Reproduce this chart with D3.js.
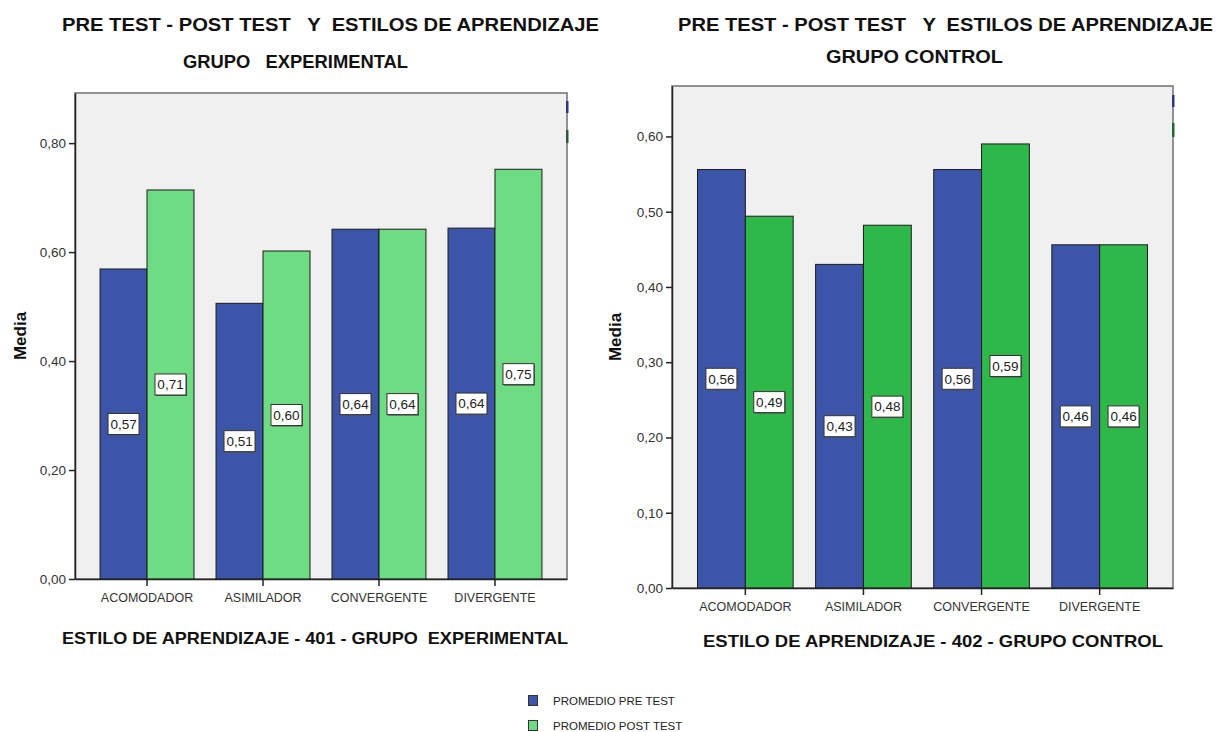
<!DOCTYPE html>
<html>
<head>
<meta charset="utf-8">
<script src="https://cdn.jsdelivr.net/npm/d3@7"></script>
<style>
  html, body { margin: 0; padding: 0; background: #fff; }
  svg { display: block; font-family: "Liberation Sans", Arial, sans-serif; }
  .pre { white-space: pre; }
</style>
</head>
<body>
<svg id="chart" width="1219" height="732"></svg>
<script>
// Learning-style categories shared by both groups
const categories = ["ACOMODADOR", "ASIMILADOR", "CONVERGENTE", "DIVERGENTE"];

// Mean scores, group 401 (experimental)
const preExperimental  = [0.569, 0.506, 0.642, 0.644];
const postExperimental = [0.714, 0.602, 0.642, 0.752];

// Mean scores, group 402 (control)
const preControl  = [0.556, 0.430, 0.556, 0.456];
const postControl = [0.494, 0.482, 0.590, 0.456];

// Y-axis ticks for each panel
const ticksExperimental = [0, 0.2, 0.4, 0.6, 0.8];
const ticksControl = [0, 0.1, 0.2, 0.3, 0.4, 0.5, 0.6];

const seriesKeys = ["pre", "post"];
const legendLabels = ["PROMEDIO PRE TEST", "PROMEDIO POST TEST"];

const BLUE = "#3c55a9";
const LIGHT_GREEN = "#6edc83";
const GREEN = "#2fb84a";

const svg = d3.select("#chart");
const fmt = v => d3.format(".2f")(v).replace(".", ",");

function drawPanel(cfg) {
  const g = svg.append("g");
  const x = d3.scaleBand().domain(categories)
    .range([cfg.left, cfg.right]).paddingInner(0.19).paddingOuter(0.216);
  const xs = d3.scaleBand().domain(seriesKeys).range([0, x.bandwidth()]);
  const y = d3.scaleLinear().domain([0, cfg.yMax]).range([cfg.bottom, cfg.top]);

  // plot background and frame
  g.append("rect")
    .attr("x", cfg.left).attr("y", cfg.top)
    .attr("width", cfg.right - cfg.left).attr("height", cfg.bottom - cfg.top)
    .attr("fill", "#f0f0f0").attr("stroke", "#707070").attr("stroke-width", 1.5);

  // slivers of the legend swatches peeking past the frame edge
  cfg.edgeMarks.forEach(m => {
    g.append("rect").attr("x", cfg.right - 1).attr("y", m.y)
      .attr("width", 2.5).attr("height", m.h).attr("fill", m.color);
  });

  const rows = categories.map((c, i) => ({ cat: c, pre: cfg.pre[i], post: cfg.post[i] }));
  const colors = { pre: BLUE, post: cfg.postColor };

  const groups = g.selectAll("g.cat").data(rows).join("g")
    .attr("class", "cat")
    .attr("transform", d => `translate(${x(d.cat)},0)`);

  groups.selectAll("rect.bar")
    .data(d => seriesKeys.map(k => ({ key: k, value: d[k] })))
    .join("rect")
    .attr("class", "bar")
    .attr("x", d => xs(d.key))
    .attr("y", d => y(d.value))
    .attr("width", xs.bandwidth())
    .attr("height", d => y(0) - y(d.value))
    .attr("fill", d => colors[d.key])
    .attr("stroke", "#1c1c1c").attr("stroke-width", 1);

  // value labels in boxes at mid-height of each bar
  const lab = groups.selectAll("g.lab")
    .data(d => seriesKeys.map(k => ({ key: k, value: d[k] })))
    .join("g")
    .attr("class", "lab")
    .attr("transform", d => `translate(${xs(d.key) + xs.bandwidth() / 2},${(y(0) + y(d.value)) / 2})`);
  lab.append("rect").attr("x", -14.5).attr("y", -9.5).attr("width", 31).attr("height", 21)
    .attr("fill", "#555");
  lab.append("rect").attr("x", -15.5).attr("y", -10.5).attr("width", 31).attr("height", 21)
    .attr("fill", "#fff").attr("stroke", "#333").attr("stroke-width", 1);
  lab.append("text").attr("text-anchor", "middle").attr("dy", "0.36em")
    .attr("font-size", 13.5).attr("fill", "#222")
    .text(d => fmt(d.value));

  // y axis
  const yAxis = g.append("g").attr("transform", `translate(${cfg.left},0)`)
    .call(d3.axisLeft(y).tickValues(cfg.ticks).tickSize(6).tickSizeOuter(0)
      .tickPadding(3).tickFormat(fmt));
  yAxis.select(".domain").attr("stroke", "#222").attr("stroke-width", 1.5);
  yAxis.selectAll(".tick line").attr("stroke", "#222").attr("stroke-width", 1.5);
  yAxis.selectAll(".tick text").attr("font-size", 13.5).attr("fill", "#333")
    .attr("font-family", "Liberation Sans, Arial, sans-serif");

  // x axis
  const xAxis = g.append("g").attr("transform", `translate(0,${cfg.bottom})`)
    .call(d3.axisBottom(x).tickSize(7).tickPadding(4).tickSizeOuter(0));
  xAxis.select(".domain").attr("stroke", "#222").attr("stroke-width", 1.5);
  xAxis.selectAll(".tick line").attr("stroke", "#222").attr("stroke-width", 1.5);
  xAxis.selectAll(".tick text").attr("font-size", 12.5).attr("fill", "#333")
    .attr("font-family", "Liberation Sans, Arial, sans-serif")
    .attr("dy", cfg.catDy);

  // axis titles
  g.append("text")
    .attr("transform", `translate(${cfg.yTitleX},${cfg.yTitleY}) rotate(-90)`)
    .attr("text-anchor", "middle").attr("dy", "0.35em")
    .attr("font-size", 17).attr("font-weight", "bold").attr("fill", "#111")
    .text("Media");

  g.append("text").attr("class", "pre")
    .attr("x", cfg.xTitle.x).attr("y", cfg.xTitle.y)
    .attr("textLength", cfg.xTitle.w).attr("lengthAdjust", "spacingAndGlyphs")
    .attr("font-size", 16.5).attr("font-weight", "bold").attr("fill", "#111")
    .text(cfg.xTitle.text);

  // chart titles
  cfg.titles.forEach(t => {
    g.append("text").attr("class", "pre")
      .attr("x", t.x).attr("y", t.y)
      .attr("textLength", t.w).attr("lengthAdjust", "spacingAndGlyphs")
      .attr("font-size", 18).attr("font-weight", "bold").attr("fill", "#111")
      .text(t.text);
  });
}

drawPanel({
  left: 75, right: 567, top: 93, bottom: 579, yMax: 0.892,
  ticks: ticksExperimental,
  pre: preExperimental, post: postExperimental, postColor: LIGHT_GREEN,
  catDy: "0.95em",
  yTitleX: 20, yTitleY: 336,
  edgeMarks: [{ y: 101, h: 12, color: "#2a3a78" }, { y: 130, h: 13, color: "#2f5a38" }],
  xTitle: { x: 62, y: 644, w: 506, text: "ESTILO DE APRENDIZAJE - 401 - GRUPO  EXPERIMENTAL" },
  titles: [
    { x: 62, y: 31, w: 537, text: "PRE TEST - POST TEST   Y  ESTILOS DE APRENDIZAJE" },
    { x: 183, y: 68, w: 225, text: "GRUPO   EXPERIMENTAL" }
  ]
});

drawPanel({
  left: 672, right: 1173, top: 86, bottom: 588, yMax: 0.667,
  ticks: ticksControl,
  pre: preControl, post: postControl, postColor: GREEN,
  catDy: "0.95em",
  yTitleX: 615, yTitleY: 337,
  edgeMarks: [{ y: 95, h: 12, color: "#2a3a78" }, { y: 123, h: 14, color: "#1f6a30" }],
  xTitle: { x: 703, y: 647, w: 460, text: "ESTILO DE APRENDIZAJE - 402 - GRUPO CONTROL" },
  titles: [
    { x: 678, y: 31, w: 535, text: "PRE TEST - POST TEST   Y  ESTILOS DE APRENDIZAJE" },
    { x: 826, y: 63, w: 177, text: "GRUPO CONTROL" }
  ]
});

// shared legend
const legend = svg.append("g").attr("transform", "translate(528,695)");
const legendColors = [BLUE, LIGHT_GREEN];
legendLabels.forEach((label, i) => {
  const row = legend.append("g").attr("transform", `translate(0,${i * 25})`);
  row.append("rect").attr("x", 0.5).attr("y", 0.5).attr("width", 9).attr("height", 10)
    .attr("fill", legendColors[i]).attr("stroke", "#333").attr("stroke-width", 1);
  row.append("text").attr("x", 25).attr("y", 6).attr("dy", "0.35em")
    .attr("font-size", 11.5).attr("fill", "#222").text(label);
});
</script>
</body>
</html>
